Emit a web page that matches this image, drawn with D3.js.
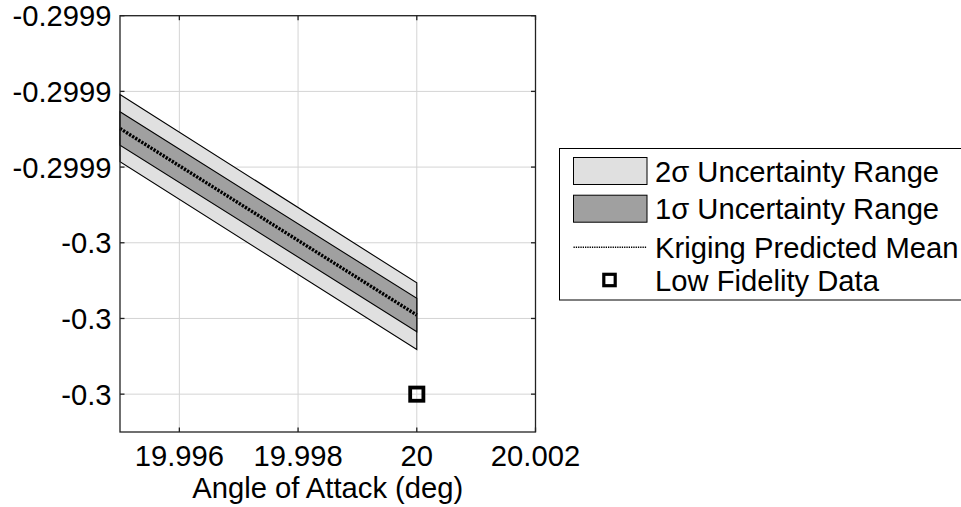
<!DOCTYPE html>
<html>
<head>
<meta charset="utf-8">
<script src="https://cdn.jsdelivr.net/npm/d3@7"></script>
<style>
  body { margin: 0; background: #fff; }
  svg { display: block; }
  text { font-family: "Liberation Sans", Arial, sans-serif; fill: #000; }
</style>
</head>
<body>
<svg id="chart" width="961" height="507"></svg>
<script>
// data
const aoa = [19.995, 20.0];
const upper2 = [-0.2999208, -0.2999706];
const upper1 = [-0.2999254, -0.2999747];
const kriging = [-0.2999298, -0.2999791];
const lower1 = [-0.2999342, -0.2999835];
const lower2 = [-0.2999386, -0.2999882];

const lowFiAoa = [20.0];
const lowFiVal = [-0.3];

const xTicks = [19.996, 19.998, 20, 20.002];
const xTickLabels = ["19.996", "19.998", "20", "20.002"];
const yTicks = [-0.2999, -0.29992, -0.29994, -0.29996, -0.29998, -0.3];
const yTickLabels = ["-0.2999", "-0.2999", "-0.2999", "-0.3", "-0.3", "-0.3"];

const legendLabels = [
  "2σ Uncertainty Range",
  "1σ Uncertainty Range",
  "Kriging Predicted Mean",
  "Low Fidelity Data",
];

// layout
const PLOT = { left: 120, right: 535.5, top: 15.7, bottom: 432 };
const FONT = 29.2;
const TICK = 4.5;
const LIGHT = "#e0e0e0";
const DARK = "#a0a0a0";

const svg = d3.select("#chart");

const x = d3.scaleLinear().domain([19.995, 20.002]).range([PLOT.left, PLOT.right]);
const y = d3.scaleLinear().domain([-0.30001, -0.2999]).range([PLOT.bottom, PLOT.top]);

const pts = aoa.map((a, i) => ({
  a, u2: upper2[i], u1: upper1[i], m: kriging[i], l1: lower1[i], l2: lower2[i],
}));

// grid
const grid = svg.append("g").attr("stroke", "#d4d4d4").attr("stroke-width", 1);
grid.selectAll(".gx").data(xTicks).join("line")
  .attr("class", "gx")
  .attr("x1", (d) => x(d)).attr("x2", (d) => x(d))
  .attr("y1", PLOT.top).attr("y2", PLOT.bottom);
grid.selectAll(".gy").data(yTicks).join("line")
  .attr("class", "gy")
  .attr("x1", PLOT.left).attr("x2", PLOT.right)
  .attr("y1", (d) => y(d)).attr("y2", (d) => y(d));

// uncertainty bands
const band = (lo, hi) => d3.area().x((d) => x(d.a)).y0((d) => y(d[lo])).y1((d) => y(d[hi]));

svg.append("path").datum(pts)
  .attr("d", band("l2", "u2"))
  .attr("fill", LIGHT).attr("stroke", "#000").attr("stroke-width", 1.1);
svg.append("path").datum(pts)
  .attr("d", band("l1", "u1"))
  .attr("fill", DARK).attr("stroke", "#000").attr("stroke-width", 1.1);

// predicted mean, dotted
svg.append("path").datum(pts)
  .attr("d", d3.line().x((d) => x(d.a)).y((d) => y(d.m)))
  .attr("fill", "none").attr("stroke", "#000")
  .attr("stroke-width", 3.4).attr("stroke-dasharray", "2.3,1.3");

// low fidelity samples
svg.selectAll(".lowfi").data(lowFiAoa).join("rect")
  .attr("class", "lowfi")
  .attr("x", (d) => x(d) - 6.6)
  .attr("y", (d, i) => y(lowFiVal[i]) - 6.6)
  .attr("width", 13.2).attr("height", 13.2)
  .attr("fill", "none").attr("stroke", "#000").attr("stroke-width", 3.8);

// axes box with inward ticks
const axisG = svg.append("g").attr("stroke", "#222").attr("stroke-width", 1.3);
axisG.append("rect")
  .attr("x", PLOT.left).attr("y", PLOT.top)
  .attr("width", PLOT.right - PLOT.left).attr("height", PLOT.bottom - PLOT.top)
  .attr("fill", "none");

xTicks.forEach((t) => {
  axisG.append("line").attr("x1", x(t)).attr("x2", x(t)).attr("y1", PLOT.bottom).attr("y2", PLOT.bottom - TICK);
  axisG.append("line").attr("x1", x(t)).attr("x2", x(t)).attr("y1", PLOT.top).attr("y2", PLOT.top + TICK);
});
yTicks.forEach((t) => {
  axisG.append("line").attr("x1", PLOT.left).attr("x2", PLOT.left + TICK).attr("y1", y(t)).attr("y2", y(t));
  axisG.append("line").attr("x1", PLOT.right).attr("x2", PLOT.right - TICK).attr("y1", y(t)).attr("y2", y(t));
});

// tick labels
svg.selectAll(".xl").data(xTicks).join("text")
  .attr("class", "xl")
  .attr("x", (d) => x(d)).attr("y", 466)
  .attr("text-anchor", "middle").attr("font-size", FONT)
  .text((d, i) => xTickLabels[i]);

svg.selectAll(".yl").data(yTicks).join("text")
  .attr("class", "yl")
  .attr("x", 111.5).attr("y", (d) => y(d))
  .attr("dy", "0.36em")
  .attr("text-anchor", "end").attr("font-size", FONT)
  .text((d, i) => yTickLabels[i]);

svg.append("text")
  .attr("x", (PLOT.left + PLOT.right) / 2).attr("y", 498)
  .attr("text-anchor", "middle").attr("font-size", FONT)
  .text("Angle of Attack (deg)");

// legend
const legend = svg.append("g");
legend.append("rect")
  .attr("x", 559.5).attr("y", 148.5).attr("width", 420).attr("height", 151.5)
  .attr("fill", "#fff").attr("stroke", "#000").attr("stroke-width", 1);

const rowY = [171, 208.7, 247.3, 280];
const sw = { x0: 573.5, x1: 647 };

legend.append("rect")
  .attr("x", sw.x0).attr("y", rowY[0] - 13.5).attr("width", sw.x1 - sw.x0).attr("height", 27)
  .attr("fill", LIGHT).attr("stroke", "#000").attr("stroke-width", 1);
legend.append("rect")
  .attr("x", sw.x0).attr("y", rowY[1] - 13.5).attr("width", sw.x1 - sw.x0).attr("height", 27)
  .attr("fill", DARK).attr("stroke", "#000").attr("stroke-width", 1);
legend.append("line")
  .attr("x1", sw.x0).attr("x2", sw.x1).attr("y1", rowY[2]).attr("y2", rowY[2])
  .attr("stroke", "#000").attr("stroke-width", 1.5).attr("stroke-dasharray", "1.3,1");
legend.append("rect")
  .attr("x", 609.5 - 5.7).attr("y", rowY[3] - 5.7).attr("width", 11.4).attr("height", 11.4)
  .attr("fill", "none").attr("stroke", "#000").attr("stroke-width", 3.2);

legend.selectAll(".lt").data(legendLabels).join("text")
  .attr("class", "lt")
  .attr("x", 655).attr("y", (d, i) => rowY[i])
  .attr("dy", "0.36em").attr("font-size", FONT)
  .text((d) => d);
</script>
</body>
</html>
